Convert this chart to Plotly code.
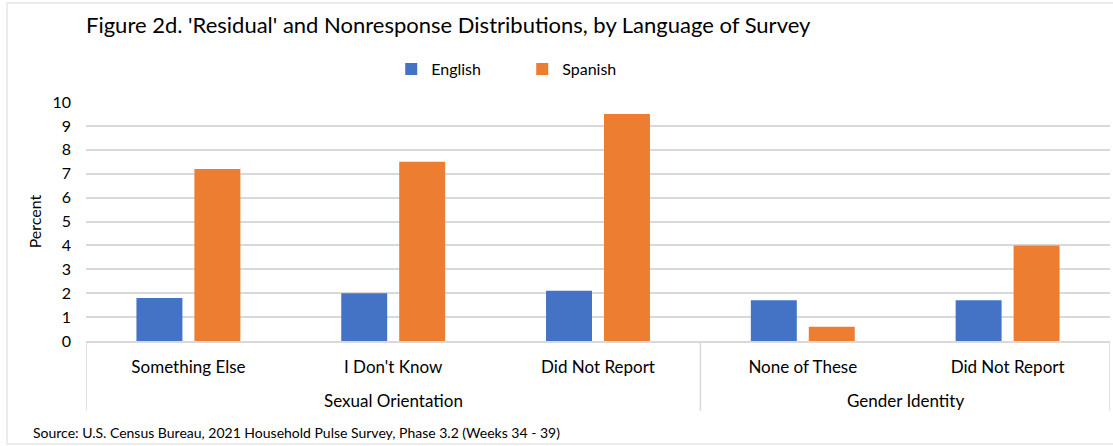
import plotly.graph_objects as go

# Response categories, grouped by survey question
categories = ["Something Else", "I Don't Know", "Did Not Report",
              "None of These", "Did Not Report"]
groups = ["Sexual Orientation", "Sexual Orientation", "Sexual Orientation",
          "Gender Identity", "Gender Identity"]

# Percent of respondents, by language of survey
english = [1.8, 2.0, 2.1, 1.7, 1.7]
spanish = [7.2, 7.5, 9.5, 0.6, 4.0]

y_ticks = list(range(0, 11))

FONT = "Lato"
GRID = "#d9d9d9"
PLOT_L, PLOT_R, PLOT_T, PLOT_B = 86, 1110, 102, 341
PLOT_W, PLOT_H = PLOT_R - PLOT_L, PLOT_B - PLOT_T

# Categories sit at integer positions so the repeated label stays distinct
xpos = list(range(len(categories)))

fig = go.Figure()
fig.add_trace(go.Bar(name="English", x=xpos, y=english,
                     marker=dict(color="#4472C4", line_width=0)))
fig.add_trace(go.Bar(name="Spanish", x=xpos, y=spanish,
                     marker=dict(color="#ED7D31", line_width=0)))

fig.update_layout(
    width=1113, height=446,
    margin=dict(l=PLOT_L, r=1113 - PLOT_R, t=PLOT_T, b=446 - PLOT_B),
    paper_bgcolor="white", plot_bgcolor="white",
    font=dict(family=FONT, size=16, color="#000000"),
    barmode="group", bargap=0.434, bargroupgap=0.207,
    title=dict(text="Figure 2d. 'Residual' and Nonresponse Distributions, by Language of Survey",
               x=PLOT_L / 1113, xanchor="left", y=1 - 25 / 446, yanchor="middle",
               font=dict(family=FONT, size=22, color="#000000")),
    legend=dict(orientation="h", x=0.426, xanchor="center", y=1 + 33 / PLOT_H,
                yanchor="middle", font=dict(size=16, color="#000000"),
                itemwidth=30, entrywidth=86, traceorder="normal"),
    showlegend=True,
)

fig.update_yaxes(range=[0, 10], tickvals=y_ticks, showgrid=True, gridcolor=GRID,
                 gridwidth=1.5, zeroline=False, showline=False, ticks="",
                 ticklabelstandoff=14,
                 title=dict(text="Percent", standoff=6, font=dict(size=16, color="#000000")),
                 tickfont=dict(size=16, color="#000000"))
fig.update_xaxes(range=[-0.5, len(categories) - 0.5], tickvals=xpos, ticktext=categories,
                 showgrid=False, zeroline=False, showline=True, linecolor=GRID, linewidth=1.5,
                 ticks="", ticklabelstandoff=10,
                 tickfont=dict(size=17, color="#000000"))

# Group labels and the divider lines that bracket each group
divider_y = (PLOT_B - 411) / PLOT_H
group_names = list(dict.fromkeys(groups))
edges = [-0.5]
for g in group_names:
    idx = [i for i, gg in enumerate(groups) if gg == g]
    lo, hi = idx[0] - 0.5, idx[-1] + 0.5
    edges.append(hi)
    fig.add_annotation(text=g, x=(lo + hi) / 2, xref="x", yref="paper",
                       y=(PLOT_B - 400) / PLOT_H, xanchor="center", yanchor="middle",
                       showarrow=False, font=dict(size=17, color="#000000"))
for e in edges:
    fig.add_shape(type="line", xref="x", yref="paper", x0=e, x1=e, y0=0, y1=divider_y,
                  line=dict(color=GRID, width=1.5))

# Light frame around the whole chart
fig.add_shape(type="rect", xref="paper", yref="paper",
              x0=(7 - PLOT_L) / PLOT_W, x1=1.02,
              y0=(PLOT_B - 444) / PLOT_H, y1=1 + (PLOT_T - 3) / PLOT_H,
              line=dict(color="#e6e6e6", width=1.5), fillcolor="rgba(0,0,0,0)", layer="below")

fig.add_annotation(text="Source: U.S. Census Bureau, 2021 Household Pulse Survey, Phase 3.2 (Weeks 34 - 39)",
                   xref="paper", yref="paper", x=(31 - PLOT_L) / PLOT_W, y=(PLOT_B - 432) / PLOT_H,
                   xanchor="left", yanchor="middle", showarrow=False,
                   font=dict(size=14, color="#000000"))

fig.write_html("out.html")
